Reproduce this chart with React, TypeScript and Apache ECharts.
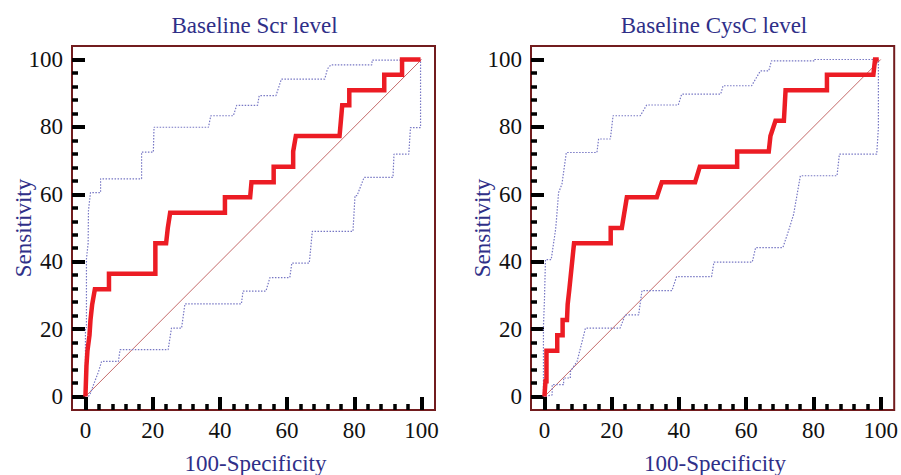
import React, { useEffect, useRef } from "react";
import * as echarts from "echarts";

const chartTitles = ["Baseline Scr level", "Baseline CysC level"];
const xAxisTitle = "100-Specificity";
const yAxisTitle = "Sensitivity";
const majorTicks = [0, 20, 40, 60, 80, 100];
const minorTicks = [4, 8, 12, 16, 24, 28, 32, 36, 44, 48, 52, 56, 64, 68, 72, 76, 84, 88, 92, 96];
const diagonal = [[0, 0], [100, 100]];

// Baseline Scr level
const scrRoc = [
  [0, 0], [0.3, 9.1], [0.6, 13.6], [1.2, 18.2], [1.5, 22.7], [2, 27.3], [2.8, 31.8], [7, 31.8],
  [7, 36.4], [20.8, 36.4], [20.8, 45.5], [24, 45.5], [24.5, 50], [25.2, 54.5], [41.5, 54.5],
  [41.5, 59.1], [49, 59.1], [49.4, 63.6], [56, 63.6], [56, 68.2], [61.8, 68.2], [61.8, 72.7],
  [62.6, 77.3], [75.6, 77.3], [76, 81.8], [76.4, 86.4], [78.5, 86.4], [78.5, 90.9], [88.9, 90.9],
  [88.9, 95.5], [94.2, 95.5], [94.2, 100], [99.7, 100],
];
const scrUpper = [
  [0, 0], [0, 20.4], [0.3, 20.4], [0.3, 40.8], [0.8, 45.5], [0.9, 55.2], [1.5, 60.5], [4.5, 60.5],
  [4.5, 64.6], [16.7, 64.6], [16.7, 72.5], [20.2, 72.5], [20.4, 79.9], [36.6, 79.9], [37.3, 83.3],
  [44, 83.3], [45, 86.4], [51.2, 86.4], [51.7, 89.3], [56.7, 89.3], [58.3, 94.2], [71.2, 94.2],
  [72, 97.2], [73, 98.4], [85.2, 98.4], [85.3, 99.8], [99.7, 99.8], [99.7, 100],
];
const scrLower = [
  [0.9, 0], [1.5, 1], [2.4, 3.5], [3.9, 7.4], [4.8, 10.4], [9.8, 10.4], [10.3, 13.9], [24.6, 13.9],
  [25.6, 20.3], [28.6, 20.3], [29.6, 27.5], [46.4, 27.5], [46.9, 31.3], [53.7, 31.3], [54.9, 35.3],
  [60.8, 35.3], [61.4, 39.6], [66.6, 39.6], [67.5, 49], [79.6, 49], [80.2, 59.6], [80.8, 59.6],
  [82.9, 65], [91.5, 65], [91.8, 71.9], [96.2, 71.9], [96.7, 79.8], [99.7, 79.8], [99.7, 100],
];

// Baseline CysC level
const cysRoc = [
  [0, 0], [0.3, 4.5], [0.6, 4.5], [0.6, 13.6], [3.8, 13.6], [3.8, 18.2], [5.4, 18.2], [5.4, 22.7],
  [6.7, 22.7], [6.9, 27.3], [7.4, 31.8], [8.8, 45.5], [19.7, 45.5], [19.7, 50], [23, 50],
  [24.5, 59.1], [33.4, 59.1], [34.9, 63.6], [44.8, 63.6], [46.2, 68.2], [57.3, 68.2], [57.3, 72.7],
  [66.7, 72.7], [67.2, 77.3], [68.7, 81.8], [71.2, 81.8], [71.7, 90.9], [84, 90.9], [84, 95.5],
  [97.8, 95.5], [98.3, 100], [99.4, 100],
];
const cysUpper = [
  [-0.3, 0], [-0.3, 20.8], [0, 28.7], [0.3, 40.6], [2, 40.6], [3.3, 49.5], [3.5, 51.6], [4.2, 60.5],
  [5.2, 63], [6.5, 72.4], [15.6, 72.4], [16.1, 76.4], [19.6, 76.4], [20.4, 83.3], [28.5, 83.3],
  [30.4, 86.5], [39.8, 86.5], [40.8, 89.7], [52.4, 89.7], [53.1, 92.2], [61.6, 92.2], [64.2, 96.6],
  [66.7, 96.6], [67.5, 99.6], [80.3, 99.6], [80.3, 100], [99.4, 100],
];
const cysLower = [
  [0.3, 0], [2.3, 0.5], [2.3, 3.5], [5.7, 3.5], [5.7, 5.5], [7.7, 5.5], [7.7, 7.4], [9.7, 10.4],
  [12.2, 20.3], [22.5, 20.3], [24, 24.2], [28, 24.2], [29, 31.4], [37.9, 31.4], [39.3, 35.6],
  [49.7, 35.6], [50.4, 39.9], [61.8, 39.9], [62.8, 44.2], [70.9, 44.2], [72.6, 49.2], [74.1, 54.1],
  [76.1, 65.5], [87, 65.5], [87.7, 71.9], [98.8, 71.9], [99.3, 79.8], [99.3, 100],
];

const panels = [
  { roc: scrRoc, upper: scrUpper, lower: scrLower },
  { roc: cysRoc, upper: cysUpper, lower: cysLower },
];

const SERIF = "'Liberation Serif', 'Times New Roman', serif";
const BORDER = "#721c1e";
const NAVY = "#2f2f88";
const RED = "#ec1c24";
const BLUE = "#7777c4";
const DIAG = "#c46a6a";

export default function App() {
  const ref = useRef<HTMLDivElement>(null);

  useEffect(() => {
    if (!ref.current) return;
    const chart = echarts.init(ref.current, undefined, { renderer: "svg" });

    const grids = [
      { left: 72, top: 46, width: 363, height: 364 },
      { left: 531, top: 46, width: 364, height: 364 },
    ];

    const xAxes: any[] = [];
    const yAxes: any[] = [];
    const series: any[] = [];
    const graphics: any[] = [];

    grids.forEach((g, i) => {
      const common = {
        type: "value",
        min: -4,
        max: 104,
        gridIndex: i,
        splitLine: { show: false },
        axisLine: { show: false, onZero: false },
      };
      xAxes.push({
        ...common,
        position: "bottom",
        axisTick: { show: true, inside: true, length: 13, customValues: majorTicks, lineStyle: { color: "#000", width: 4 } },
        axisLabel: { show: true, customValues: majorTicks, margin: 9, color: "#111", fontFamily: SERIF, fontSize: 23 },
      });
      xAxes.push({
        ...common,
        position: "bottom",
        axisTick: { show: true, inside: true, length: 6, customValues: minorTicks, lineStyle: { color: "#000", width: 3.5 } },
        axisLabel: { show: false },
      });
      yAxes.push({
        ...common,
        position: "left",
        axisTick: { show: true, inside: true, length: 13, customValues: majorTicks, lineStyle: { color: "#000", width: 4 } },
        axisLabel: { show: true, customValues: majorTicks, margin: 9, color: "#111", fontFamily: SERIF, fontSize: 23 },
      });
      yAxes.push({
        ...common,
        position: "left",
        axisTick: { show: true, inside: true, length: 6, customValues: minorTicks, lineStyle: { color: "#000", width: 3.5 } },
        axisLabel: { show: false },
      });

      const xi = i * 2;
      const yi = i * 2;
      const p = panels[i];
      const base = { type: "line", xAxisIndex: xi, yAxisIndex: yi, showSymbol: false, symbol: "none", silent: true };
      series.push({ ...base, data: diagonal, lineStyle: { color: DIAG, width: 1 }, z: 2 });
      series.push({ ...base, data: p.upper, lineStyle: { color: BLUE, width: 1.2, type: [1.5, 1.5] }, z: 3 });
      series.push({ ...base, data: p.lower, lineStyle: { color: BLUE, width: 1.2, type: [1.5, 1.5] }, z: 3 });
      series.push({ ...base, data: p.roc, lineStyle: { color: RED, width: 4.5, join: "miter" }, z: 4 });

      const cx = g.left + g.width / 2;
      graphics.push({
        type: "text",
        x: cx + 1,
        y: 25,
        style: { text: chartTitles[i], fill: NAVY, font: `23px ${SERIF}`, textAlign: "center", textVerticalAlign: "middle" },
      });
      graphics.push({
        type: "text",
        x: cx + 2,
        y: 463,
        style: { text: xAxisTitle, fill: NAVY, font: `23px ${SERIF}`, textAlign: "center", textVerticalAlign: "middle" },
      });
      graphics.push({
        type: "text",
        x: g.left - 49,
        y: g.top + g.height / 2,
        rotation: Math.PI / 2,
        style: { text: yAxisTitle, fill: NAVY, font: `23px ${SERIF}`, textAlign: "center", textVerticalAlign: "middle" },
      });
    });

    chart.setOption({
      animation: false,
      backgroundColor: "#ffffff",
      grid: grids.map((g) => ({ ...g, show: true, borderColor: BORDER, borderWidth: 2, backgroundColor: "transparent" })),
      xAxis: xAxes,
      yAxis: yAxes,
      series,
      graphic: graphics,
    });

    return () => chart.dispose();
  }, []);

  return <div ref={ref} style={{ position: "fixed", left: 0, top: 0, width: 901, height: 475 }} />;
}
